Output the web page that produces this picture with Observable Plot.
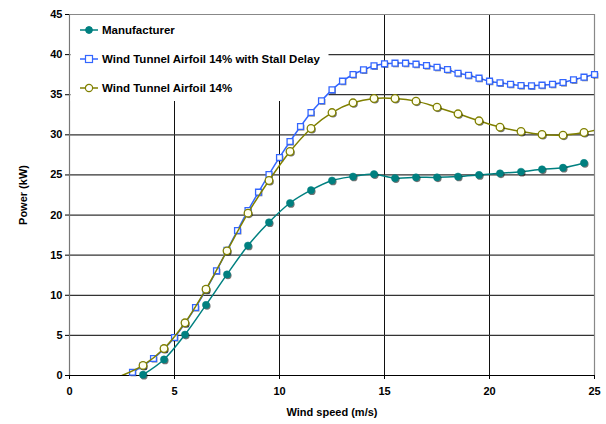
<!DOCTYPE html>
<html><head><meta charset="utf-8">
<script src="https://cdn.jsdelivr.net/npm/d3@7"></script>
<script src="https://cdn.jsdelivr.net/npm/@observablehq/plot@0.6"></script>
<style>
body{margin:0;background:#fff;font-family:"Liberation Sans",Arial,sans-serif;}
#wrap{position:relative;width:606px;height:424px;}
#legend{position:absolute;left:71px;top:15px;width:257px;height:85px;font-weight:bold;font-size:11.5px;color:#000;pointer-events:none;}
.item{position:absolute;left:9px;height:14px;display:flex;align-items:center;white-space:nowrap;}
.item svg{margin-right:3px;}
</style></head><body><div id="wrap"></div>
<script>
const seriesNames = ["Manufacturer", "Wind Tunnel Airfoil 14% with Stall Delay", "Wind Tunnel Airfoil 14%"];
const seriesColors = ["#008080", "#3366ff", "#808000"];

const mfrSpeed = [3.5,4.5,5.5,6.5,7.5,8.5,9.5,10.5,11.5,12.5,13.5,14.5,15.5,16.5,17.5,18.5,19.5,20.5,21.5,22.5,23.5,24.5];
const mfrPower = [0.1,2.0,5.1,8.8,12.6,16.2,19.1,21.5,23.1,24.3,24.8,25.1,24.6,24.7,24.7,24.8,25.0,25.2,25.4,25.7,25.9,26.5];

const stallSpeed = [3,3.5,4,4.5,5,5.5,6,6.5,7,7.5,8,8.5,9,9.5,10,10.5,11,11.5,12,12.5,13,13.5,14,14.5,15,15.5,16,16.5,17,17.5,18,18.5,19,19.5,20,20.5,21,21.5,22,22.5,23,23.5,24,24.5,25];
const stallPower = [0.41,1.2,2.12,3.3,4.74,6.5,8.48,10.7,13.05,15.6,18.08,20.57,22.85,25.06,27.18,29.17,31.04,32.78,34.25,35.61,36.69,37.52,38.1,38.6,38.85,38.93,38.93,38.81,38.64,38.43,38.14,37.68,37.43,37.06,36.69,36.48,36.31,36.15,36.11,36.19,36.31,36.52,36.86,37.19,37.52];

const wtSpeed = [2.5,3.5,4.5,5.5,6.5,7.5,8.5,9.5,10.5,11.5,12.5,13.5,14.5,15.5,16.5,17.5,18.5,19.5,20.5,21.5,22.5,23.5,24.5,25];
const wtPower = [0,1.25,3.36,6.57,10.76,15.54,20.24,24.31,27.92,30.79,32.78,33.99,34.53,34.53,34.2,33.45,32.62,31.75,30.95,30.42,30.04,29.96,30.29,30.54];
const wtMarked = wtSpeed.map((s, i) => i > 0 && i < wtSpeed.length - 1);

const xTicks = [0,5,10,15,20,25];
const yTicks = [0,5,10,15,20,25,30,35,40,45];
const xGrid = [5,10,15,20];
const yGrid = [5,10,15,20,25,30,35,40];

const mfr = mfrSpeed.map((x, i) => ({x, y: mfrPower[i]}));
const stall = stallSpeed.map((x, i) => ({x, y: stallPower[i]}));
const wt = wtSpeed.map((x, i) => ({x, y: wtPower[i], m: wtMarked[i]}));
const wtDots = wt.filter(d => d.m);

const shadow = {dx: 1, dy: 1.2};

const chart = Plot.plot({
  width: 606, height: 424,
  marginLeft: 69, marginRight: 12, marginTop: 14, marginBottom: 49,
  style: {fontFamily: "'Liberation Sans', Arial, sans-serif", fontWeight: "bold", fontSize: "11px", color: "#000", background: "#fff"},
  x: {domain: [0, 25]},
  y: {domain: [0, 45]},
  marks: [
    Plot.ruleX(xGrid, {stroke: "#111", strokeWidth: 1}),
    Plot.ruleY(yGrid, {stroke: "#333", strokeWidth: 1.2}),
    Plot.ruleY([45], {stroke: "#888", strokeWidth: 1.2}),
    Plot.ruleX([25], {stroke: "#888", strokeWidth: 1.2}),
    Plot.ruleX([0], {stroke: "#777", strokeWidth: 1.2}),
    Plot.ruleY([0], {stroke: "#000", strokeWidth: 1.2}),
    Plot.line(mfr, {x: "x", y: "y", stroke: seriesColors[0], strokeWidth: 1.5, curve: "catmull-rom", clip: true}),
    Plot.dot(mfr, {x: "x", y: "y", r: 3.6, fill: "#000", fillOpacity: 0.55, ...shadow}),
    Plot.dot(mfr, {x: "x", y: "y", r: 3.6, fill: seriesColors[0], stroke: seriesColors[0], strokeWidth: 0.5}),
    Plot.line(stall, {x: "x", y: "y", stroke: seriesColors[1], strokeWidth: 1.5, curve: "catmull-rom", clip: true}),
    Plot.dot(stall, {x: "x", y: "y", symbol: "square", r: 3.3, fill: "#000", fillOpacity: 0.45, ...shadow}),
    Plot.dot(stall, {x: "x", y: "y", symbol: "square", r: 3.3, fill: "#fff", stroke: seriesColors[1], strokeWidth: 1.3}),
    Plot.line(wt, {x: "x", y: "y", stroke: seriesColors[2], strokeWidth: 1.5, curve: "catmull-rom", clip: true}),
    Plot.dot(wtDots, {x: "x", y: "y", r: 3.8, fill: "#000", fillOpacity: 0.55, ...shadow}),
    Plot.dot(wtDots, {x: "x", y: "y", r: 3.8, fill: "#ffffee", stroke: seriesColors[2], strokeWidth: 1.3}),
    Plot.axisX({ticks: xTicks, tickSize: 4, tickPadding: 8, label: "Wind speed (m/s)", labelAnchor: "center", labelArrow: "none", labelOffset: 40}),
    Plot.axisY({ticks: yTicks, tickSize: 4, tickPadding: 3, label: "Power (kW)", labelAnchor: "center", labelArrow: "none", labelOffset: 50})
  ]
});
const wrap = document.getElementById("wrap");
wrap.appendChild(chart);

// white legend background, drawn above the gridlines but beneath the data lines
const firstLine = chart.querySelector('g[aria-label="line"]');
const bg = document.createElementNS("http://www.w3.org/2000/svg", "rect");
bg.setAttribute("x", 70.5); bg.setAttribute("y", 15);
bg.setAttribute("width", 258); bg.setAttribute("height", 86);
bg.setAttribute("fill", "#fff");
firstLine.parentNode.insertBefore(bg, firstLine);

const legend = document.createElement("div");
legend.id = "legend";
const tops = [8, 37, 66];
const sym = [
  c => `<circle cx="9" cy="7" r="3.4" fill="${c}" stroke="${c}"/>`,
  c => `<rect x="5.5" y="3.5" width="7" height="7" fill="#fff" stroke="${c}" stroke-width="1.2"/>`,
  c => `<circle cx="9" cy="7" r="3.6" fill="#fff" stroke="${c}" stroke-width="1.2"/>`
];
seriesNames.forEach((name, i) => {
  const it = document.createElement("div");
  it.className = "item";
  it.style.top = tops[i] + "px";
  it.innerHTML = `<svg width="19" height="14"><line x1="0" y1="7" x2="18" y2="7" stroke="${seriesColors[i]}" stroke-width="1.5"/>${sym[i](seriesColors[i])}</svg><span>${name}</span>`;
  legend.appendChild(it);
});
wrap.appendChild(legend);
</script></body></html>
